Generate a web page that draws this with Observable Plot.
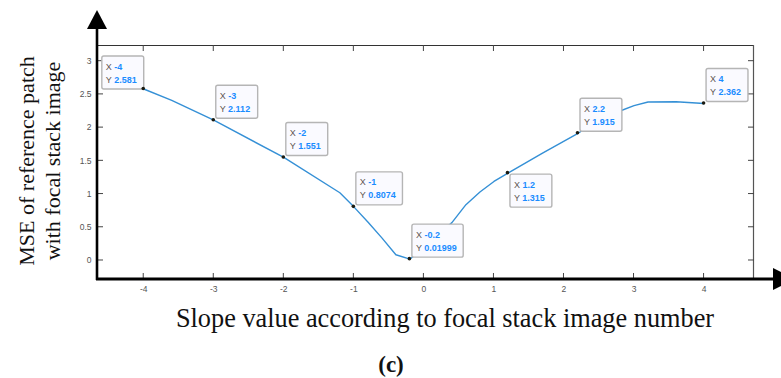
<!DOCTYPE html>
<html>
<head>
<meta charset="utf-8">
<script src="https://cdn.jsdelivr.net/npm/d3@7"></script>
<script src="https://cdn.jsdelivr.net/npm/@observablehq/plot@0.6"></script>
<style>
  html, body { margin: 0; padding: 0; background: #fff; }
  #chart svg { display: block; }
</style>
</head>
<body>
<div id="chart"></div>
<script>
// ---- data ----
const xTicks = [-4, -3, -2, -1, 0, 1, 2, 3, 4];
const yTicks = [0, 0.5, 1, 1.5, 2, 2.5, 3];
const yTickLabels = ["0", "0.5", "1", "1.5", "2", "2.5", "3"];

const curveX = [-4, -3.6, -3, -2, -1.2, -1, -0.8, -0.6, -0.4, -0.2, 0, 0.2, 0.4, 0.6, 0.8, 1.0, 1.2, 1.7, 2.2, 2.4, 2.6, 2.8, 3.0, 3.2, 3.6, 4];
const curveY = [2.581, 2.41, 2.112, 1.551, 1.02, 0.8074, 0.58, 0.34, 0.086, 0.01999, 0.2, 0.38, 0.57, 0.84, 1.03, 1.19, 1.315, 1.62, 1.915, 2.04, 2.15, 2.25, 2.33, 2.385, 2.39, 2.362];

const tipX = [-4, -3, -2, -1, -0.2, 1.2, 2.2, 4];
const tipY = [2.581, 2.112, 1.551, 0.8074, 0.01999, 1.315, 1.915, 2.362];
const tipLabelX = ["-4", "-3", "-2", "-1", "-0.2", "1.2", "2.2", "4"];
const tipLabelY = ["2.581", "2.112", "1.551", "0.8074", "0.01999", "1.315", "1.915", "2.362"];

const yTitle1 = "MSE of reference patch";
const yTitle2 = "with focal stack image";
const xTitle = "Slope value according to focal stack image number";
const caption = "(c)";

// ---- layout (not data) ----
const tipPlacement = ["ul", "ur", "ur", "ur", "ur", "dr", "ur", "ur"];

const curve = curveX.map((x, i) => ({x, y: curveY[i]}));
const tips = tipX.map((x, i) => ({x, y: tipY[i], lx: tipLabelX[i], ly: tipLabelY[i], place: tipPlacement[i]}));

const W = 781, H = 378;
const mL = 97, mT = 45, mR = 27, mB = 99;

function decor(index, scales, values, dims) {
  const g = d3.create("svg:g");
  const x = scales.x, y = scales.y;
  const L = dims.marginLeft, T = dims.marginTop;
  const R = dims.width - dims.marginRight, B = dims.height - dims.marginBottom;
  const tl = 6;
  g.append("line").attr("x1", L).attr("x2", R).attr("y1", T + 0.5).attr("y2", T + 0.5)
    .attr("stroke", "#333").attr("stroke-width", 1.2);
  g.append("line").attr("x1", R - 0.5).attr("x2", R - 0.5).attr("y1", T).attr("y2", B)
    .attr("stroke", "#555").attr("stroke-width", 1.2);
  for (const t of xTicks) {
    const px = x(t);
    g.append("line").attr("x1", px).attr("x2", px).attr("y1", T).attr("y2", T + tl).attr("stroke", "#444");
    g.append("line").attr("x1", px).attr("x2", px).attr("y1", B).attr("y2", B - tl).attr("stroke", "#444");
  }
  for (const t of yTicks) {
    const py = y(t);
    g.append("line").attr("x1", L).attr("x2", L + tl).attr("y1", py).attr("y2", py).attr("stroke", "#444");
    g.append("line").attr("x1", R).attr("x2", R - tl).attr("y1", py).attr("y2", py).attr("stroke", "#444");
  }
  g.append("line").attr("x1", L).attr("x2", L).attr("y1", B + 1).attr("y2", 28)
    .attr("stroke", "#000").attr("stroke-width", 2.6);
  g.append("path").attr("d", `M${L},10L${L - 10},29L${L + 10},29Z`).attr("fill", "#000");
  g.append("line").attr("x1", L - 1).attr("x2", 775).attr("y1", B).attr("y2", B)
    .attr("stroke", "#000").attr("stroke-width", 2.8);
  g.append("path").attr("d", `M773,${B - 11}L795,${B}L773,${B + 11}Z`).attr("fill", "#000");
  return g.node();
}

function datatips(index, scales) {
  const g = d3.create("svg:g").attr("font-family", "Arial, 'Liberation Sans', sans-serif")
    .attr("font-size", 9).attr("text-anchor", "start");
  for (const d of tips) {
    const px = scales.x(d.x), py = scales.y(d.y);
    const n = Math.max(d.lx.length + 2, d.ly.length + 2);
    const w = 9 + n * 4.7, h = 33;
    let bx, by;
    if (d.place === "ul") { bx = px - w; by = py - h; }
    else if (d.place === "dr") { bx = px + 2; by = py + 1; }
    else { bx = px + 2; by = py - h - 2; }
    g.append("rect").attr("x", bx + 0.5).attr("y", by + 0.5).attr("width", w).attr("height", h)
      .attr("rx", 2).attr("fill", "#fafaff").attr("stroke", "#b5b5b5").attr("stroke-width", 1.4);
    const t1 = g.append("text").attr("x", bx + 4.5).attr("y", by + 14).attr("text-anchor", "start");
    t1.append("tspan").attr("fill", "#5e5450").text("X ");
    t1.append("tspan").attr("fill", "#1a8cff").attr("font-weight", "bold").text(d.lx);
    const t2 = g.append("text").attr("x", bx + 4.5).attr("y", by + 27).attr("text-anchor", "start");
    t2.append("tspan").attr("fill", "#5e5450").text("Y ");
    t2.append("tspan").attr("fill", "#1a8cff").attr("font-weight", "bold").text(d.ly);
    g.append("circle").attr("cx", px).attr("cy", py).attr("r", 1.8).attr("fill", "#1a1a10");
  }
  return g.node();
}

function titles(index, scales, values, dims) {
  const g = d3.create("svg:g").attr("font-family", "'Liberation Serif', 'Times New Roman', serif").attr("fill", "#111");
  const cy = 161;
  g.append("text").attr("transform", `translate(34,${cy}) rotate(-90)`).attr("text-anchor", "middle")
    .attr("font-size", 22).text(yTitle1);
  g.append("text").attr("transform", `translate(60,${cy}) rotate(-90)`).attr("text-anchor", "middle")
    .attr("font-size", 22).text(yTitle2);
  g.append("text").attr("x", 445).attr("y", 327).attr("text-anchor", "middle")
    .attr("font-size", 26.3).text(xTitle);
  g.append("text").attr("x", 391).attr("y", 372).attr("text-anchor", "middle")
    .attr("font-size", 23).attr("font-weight", "bold").text(caption);
  return g.node();
}

const chart = Plot.plot({
  width: W, height: H,
  marginLeft: mL, marginTop: mT, marginRight: mR, marginBottom: mB,
  style: {background: "#fff", overflow: "visible"},
  x: {domain: [-4.66, 4.72], axis: null},
  y: {domain: [-0.286, 3.236], axis: null},
  marks: [
    Plot.line(curve, {x: "x", y: "y", stroke: "#3590d6", strokeWidth: 1.4}),
    Plot.text(xTicks, {x: d => d, frameAnchor: "bottom", dy: 12, text: d => String(d),
      fontSize: 8.5, fill: "#555", fontFamily: "Arial, 'Liberation Sans', sans-serif"}),
    Plot.text(yTicks, {y: d => d, frameAnchor: "left", dx: -6, textAnchor: "end",
      text: (d, i) => yTickLabels[i], fontSize: 8.5, fill: "#555", fontFamily: "Arial, 'Liberation Sans', sans-serif"}),
    decor,
    datatips,
    titles
  ]
});
document.getElementById("chart").appendChild(chart);
</script>
</body>
</html>
